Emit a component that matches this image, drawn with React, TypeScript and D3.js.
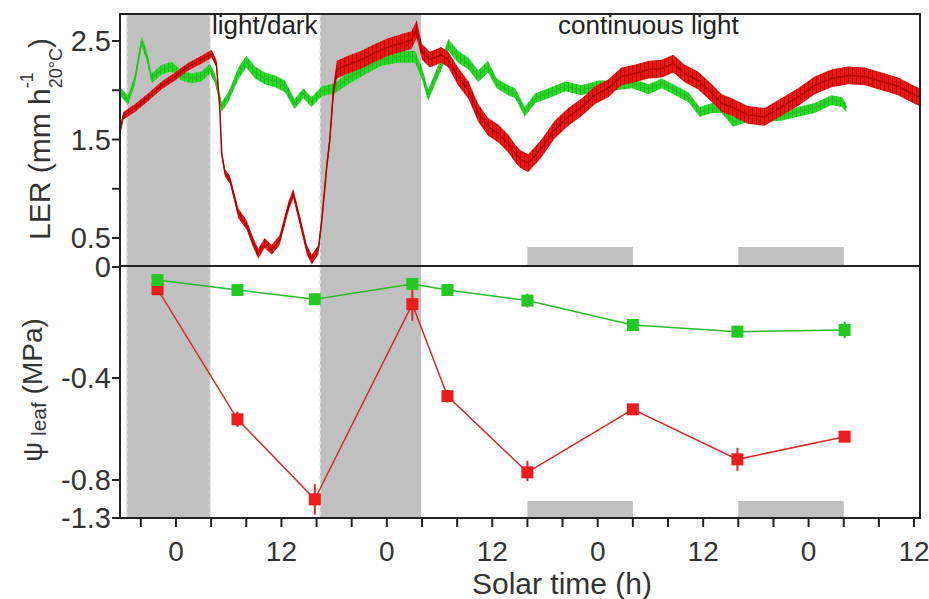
import * as d3 from "d3";

// light regime (h, solar time)
const darkPeriods = [[-5.6, 3.9], [16.4, 27.9]];
const subjectiveNights = [[40, 52], [64, 76]];

// axis ticks
const xTickHours = [-4, 0, 4, 8, 12, 16, 20, 24, 28, 32, 36, 40, 44, 48, 52, 56, 60, 64, 68, 72, 76, 80, 84];
const xLabelHours = [0, 12, 24, 36, 48, 60, 72, 84];
const xLabels = ["0", "12", "0", "12", "0", "12", "0", "12"];
const lerTicks = [0.5, 1, 1.5, 2, 2.5];
const lerLabels = ["0.5", "", "1.5", "", "2.5"];
const psiTicks = [0, -0.4, -0.8, -1.3];
const psiLabels = ["0", "-0.4", "-0.8", "-1.3"];

// LER traces: [hour, mean, half-spread of the noisy record]
const greenLER = [
  [-6.37, 1.99, 0.04], [-5.46, 1.9, 0.05], [-4.7, 2.1, 0.05], [-3.9, 2.5, 0.05], [-3.3, 2.34, 0.05],
  [-2.77, 2.12, 0.05], [-1.63, 2.21, 0.05], [-0.5, 2.24, 0.05], [0.65, 2.15, 0.05], [1.8, 2.12, 0.05],
  [2.9, 2.14, 0.05], [3.87, 2.22, 0.05], [4.44, 2.12, 0.05], [5.2, 1.83, 0.05], [5.95, 1.93, 0.05],
  [7.1, 2.17, 0.06], [8.0, 2.29, 0.06], [9.0, 2.18, 0.06], [10.1, 2.12, 0.06], [11.3, 2.09, 0.06],
  [12.4, 2.04, 0.06], [13.5, 1.86, 0.05], [14.5, 1.97, 0.05], [15.4, 1.88, 0.05], [16.6, 1.99, 0.05],
  [18.1, 2.02, 0.05], [19.6, 2.12, 0.06], [21.5, 2.22, 0.06], [23.4, 2.31, 0.06], [25.3, 2.34, 0.06],
  [27.2, 2.34, 0.06], [28.0, 2.17, 0.06], [28.7, 1.95, 0.06], [29.5, 2.12, 0.06], [30.4, 2.31, 0.06],
  [31.0, 2.46, 0.06], [32.1, 2.34, 0.06], [33.3, 2.27, 0.06], [34.4, 2.14, 0.06], [35.5, 2.24, 0.06],
  [36.5, 2.07, 0.05], [37.8, 2.0, 0.05], [38.6, 1.97, 0.05], [39.7, 1.78, 0.05], [40.9, 1.92, 0.05],
  [42.4, 1.97, 0.05], [44.3, 2.04, 0.05], [46.2, 2.0, 0.05], [48.1, 2.05, 0.05], [50.0, 2.05, 0.05],
  [51.9, 2.07, 0.05], [53.8, 2.01, 0.05], [55.3, 2.07, 0.05], [56.8, 2.0, 0.05], [58.3, 1.93, 0.05],
  [59.6, 1.78, 0.05], [61.0, 1.82, 0.05], [62.1, 1.82, 0.05], [63.4, 1.68, 0.05], [65.1, 1.73, 0.05],
  [67.0, 1.73, 0.05], [68.9, 1.74, 0.05], [70.8, 1.78, 0.05], [72.7, 1.82, 0.05], [74.6, 1.9, 0.05],
  [75.8, 1.88, 0.05], [76.3, 1.82, 0.04],
];
const redLER = [
  [-6.37, 1.58, 0.04], [-6.0, 1.74, 0.04], [-4.67, 1.82, 0.04], [-3.15, 1.93, 0.04], [-1.63, 2.05, 0.04],
  [-0.1, 2.14, 0.04], [1.4, 2.24, 0.04], [2.9, 2.31, 0.04], [4.06, 2.37, 0.04], [4.6, 2.27, 0.04],
  [5.0, 1.8, 0.04], [5.2, 1.36, 0.04], [5.58, 1.16, 0.04], [6.15, 1.09, 0.04], [7.1, 0.75, 0.05],
  [8.05, 0.63, 0.05], [8.8, 0.45, 0.05], [9.37, 0.34, 0.05], [10.1, 0.45, 0.05], [10.9, 0.38, 0.05],
  [11.8, 0.48, 0.05], [12.8, 0.82, 0.05], [13.35, 0.95, 0.05], [14.1, 0.68, 0.05], [14.9, 0.38, 0.05],
  [15.45, 0.28, 0.05], [16.2, 0.38, 0.05], [16.6, 0.68, 0.05], [17.15, 1.22, 0.05], [17.5, 1.49, 0.06],
  [17.9, 1.97, 0.07], [18.3, 2.21, 0.09], [19.6, 2.26, 0.09], [21.1, 2.31, 0.09], [22.65, 2.38, 0.09],
  [24.2, 2.44, 0.09], [25.7, 2.48, 0.09], [26.8, 2.51, 0.09], [27.4, 2.62, 0.09], [28.0, 2.39, 0.08],
  [28.9, 2.31, 0.08], [30.2, 2.36, 0.08], [31.0, 2.31, 0.08], [32.1, 2.14, 0.09], [33.3, 2.0, 0.09],
  [34.4, 1.77, 0.09], [35.5, 1.63, 0.09], [36.7, 1.56, 0.09], [37.8, 1.46, 0.09], [38.6, 1.36, 0.09],
  [39.2, 1.3, 0.09], [40.1, 1.26, 0.09], [41.6, 1.41, 0.09], [43.1, 1.6, 0.09], [44.65, 1.73, 0.09],
  [46.2, 1.83, 0.09], [47.7, 1.95, 0.09], [49.2, 2.02, 0.09], [50.7, 2.14, 0.09], [52.2, 2.17, 0.09],
  [53.8, 2.21, 0.09], [55.3, 2.22, 0.09], [56.6, 2.27, 0.09], [57.9, 2.17, 0.09], [59.4, 2.1, 0.09],
  [61.0, 1.97, 0.09], [62.1, 1.87, 0.09], [63.25, 1.83, 0.09], [65.1, 1.75, 0.09], [67.0, 1.73, 0.09],
  [68.9, 1.83, 0.09], [70.8, 1.93, 0.09], [72.7, 2.05, 0.09], [74.6, 2.12, 0.09], [76.5, 2.15, 0.09],
  [78.4, 2.14, 0.09], [80.3, 2.09, 0.09], [82.2, 2.04, 0.09], [84.1, 1.95, 0.09], [84.68, 1.93, 0.09],
];

// leaf water potential
const psiHours = [-2.1, 7.0, 15.8, 26.9, 30.9, 40.0, 52.0, 63.9, 76.1];
const greenPsi = [-0.047, -0.083, -0.116, -0.061, -0.083, -0.121, -0.209, -0.233, -0.227];
const greenErr = [0.005, 0.01, 0.02, 0.02, 0.01, 0.025, 0.015, 0.015, 0.03];
const redPsi = [-0.08, -0.562, -1.054, -0.134, -0.471, -0.77, -0.523, -0.719, -0.63];
const redErr = [0.01, 0.03, 0.2, 0.06, 0.025, 0.045, 0.015, 0.045, 0.02];

const W = 929, H = 599;
const left = 120, right = 920, top = 14, mid = 266, bottom = 518;
const FONT = "Arial, 'Liberation Sans', sans-serif";
const GRAY = "#c0c0c0";

export default function App() {
  const x = d3.scaleLinear().domain([-6.37, 84.68]).range([left, right]);
  const yLer = d3.scaleLinear().domain([0.5, 2.5]).range([238, 41]);
  const yPsi = d3.scaleLinear().domain([0, -0.4, -0.8, -1.3]).range([267, 378, 480, 518]);

  const band = d3.area<number[]>().x(d => x(d[0])).y0(d => yLer(d[1] - d[2])).y1(d => yLer(d[1] + d[2]));
  const trace = d3.line<number[]>().x(d => x(d[0])).y(d => yLer(d[1]));
  const psiLine = (vals: number[]) =>
    d3.line<number>().x((_, i) => x(psiHours[i])).y(v => yPsi(v))(vals) || "";

  const psiSeries = [
    { vals: redPsi, err: redErr, fill: "#ec1c1c", stroke: "#d42a2a" },
    { vals: greenPsi, err: greenErr, fill: "#22c922", stroke: "#2cb82c" },
  ];

  return (
    <svg width={W} height={H} style={{ position: "absolute", left: 0, top: 0, background: "#fff" }}
      fontFamily={FONT}>
      <defs>
        <clipPath id="topClip"><rect x={left} y={top} width={right - left} height={mid - top} /></clipPath>
        <clipPath id="botClip"><rect x={left} y={mid} width={right - left} height={bottom - mid} /></clipPath>
        {/* vertical streak texture standing in for the dense raw record */}
        <pattern id="redNoise" width={4} height={6} patternUnits="userSpaceOnUse">
          <rect width={4} height={6} fill="#ec1313" />
          <rect x={0} y={0} width={1} height={6} fill="#a30000" opacity={0.75} />
        </pattern>
        <pattern id="greenNoise" width={4} height={6} patternUnits="userSpaceOnUse">
          <rect width={4} height={6} fill="#2bd82b" />
          <rect x={0} y={0} width={1} height={6} fill="#16b016" opacity={0.7} />
        </pattern>
      </defs>

      {/* dark periods */}
      {darkPeriods.map(([a, b], i) => (
        <g key={"d" + i}>
          <rect x={x(a)} y={top} width={x(b) - x(a)} height={bottom - top} fill={GRAY} />
          <line x1={x(a)} x2={x(a)} y1={top} y2={bottom} stroke="#e6e6e6" strokeWidth={1.5} strokeDasharray="4 3" />
          {i === 0 && <line x1={x(b)} x2={x(b)} y1={top} y2={bottom} stroke="#e6e6e6" strokeWidth={1.5} strokeDasharray="4 3" />}
        </g>
      ))}
      {subjectiveNights.map(([a, b], i) => (
        <g key={"n" + i}>
          <rect x={x(a)} y={247} width={x(b) - x(a)} height={mid - 247} fill={GRAY} />
          <rect x={x(a)} y={501} width={x(b) - x(a)} height={bottom - 501} fill={GRAY} />
        </g>
      ))}

      {/* LER traces */}
      <g clipPath="url(#topClip)">
        <path d={band(greenLER) || ""} fill="url(#greenNoise)" />
        <path d={trace(greenLER) || ""} fill="none" stroke="#22c422" strokeWidth={1.5} />
        <path d={band(redLER) || ""} fill="url(#redNoise)" />
        <path d={trace(redLER) || ""} fill="none" stroke="#b00000" strokeWidth={1.5} />
      </g>

      {/* leaf water potential */}
      <g clipPath="url(#botClip)">
        {psiSeries.map((s, k) => (
          <g key={k}>
            <path d={psiLine(s.vals)} fill="none" stroke={s.stroke} strokeWidth={1.5} />
            {s.vals.map((v, i) => (
              <g key={i}>
                <line x1={x(psiHours[i])} x2={x(psiHours[i])} y1={yPsi(v + s.err[i])} y2={yPsi(v - s.err[i])}
                  stroke={s.stroke} strokeWidth={2} />
                <rect x={x(psiHours[i]) - 6} y={yPsi(v) - 6} width={12} height={12} fill={s.fill} />
              </g>
            ))}
          </g>
        ))}
      </g>

      {/* frame */}
      <rect x={left} y={top} width={right - left} height={bottom - top} fill="none" stroke="#222" strokeWidth={2} />
      <line x1={left} x2={right} y1={mid} y2={mid} stroke="#222" strokeWidth={2} />

      {/* left axes */}
      {lerTicks.map((t, i) => (
        <g key={"l" + i}>
          <line x1={left - 8} x2={left} y1={yLer(t)} y2={yLer(t)} stroke="#222" strokeWidth={2} />
          <text x={left - 9} y={yLer(t)} dy="0.36em" textAnchor="end" fontSize={29} fill="#333">{lerLabels[i]}</text>
        </g>
      ))}
      {psiTicks.map((t, i) => (
        <g key={"p" + i}>
          <line x1={left - 8} x2={left} y1={yPsi(t)} y2={yPsi(t)} stroke="#222" strokeWidth={2} />
          <text x={left - 9} y={yPsi(t)} dy="0.36em" textAnchor="end" fontSize={29} fill="#333">{psiLabels[i]}</text>
        </g>
      ))}

      {/* bottom axis */}
      {xTickHours.map(h => (
        <line key={"x" + h} x1={x(h)} x2={x(h)} y1={bottom} y2={bottom + 9} stroke="#222" strokeWidth={2} />
      ))}
      {xLabelHours.map((h, i) => (
        <text key={"xl" + h} x={x(h)} y={561} textAnchor="middle" fontSize={28} fill="#333">{xLabels[i]}</text>
      ))}
      <text x={562} y={594} textAnchor="middle" fontSize={30} fill="#333">Solar time (h)</text>

      {/* axis titles */}
      <text transform="translate(50,139) rotate(-90)" textAnchor="middle" fontSize={30} fill="#333">
        LER (mm h<tspan fontSize={18} dy={-17}>-1</tspan>
        <tspan fontSize={18} dx={-16} dy={29}>20°C</tspan>
        <tspan dy={-12}>)</tspan>
      </text>
      <text transform="translate(42,390) rotate(-90)" textAnchor="middle" fontSize={28} fill="#333">
        ψ<tspan fontSize={21} dy={4}> leaf</tspan><tspan dy={-4}> (MPa)</tspan>
      </text>

      {/* annotations */}
      <text x={212} y={34} fontSize={26} fill="#222">light/dark</text>
      <text x={558} y={34} fontSize={26} fill="#222">continuous light</text>
    </svg>
  );
}
